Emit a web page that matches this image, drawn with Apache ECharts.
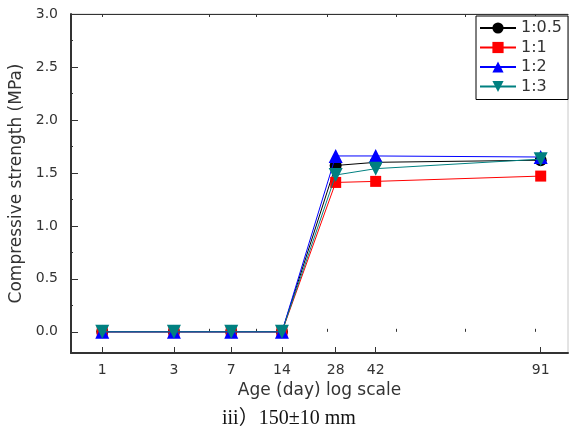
<!DOCTYPE html>
<html>
<head>
<meta charset="utf-8">
<script src="https://cdn.jsdelivr.net/npm/echarts@6/dist/echarts.min.js"></script>
<style>
html,body{margin:0;padding:0;background:#fff;}
#c{width:570px;height:435px;}
</style>
</head>
<body>
<div id="c"></div>
<script>
// Age labels (days) and where each sits on the original's log axis
const ages = [1, 3, 7, 14, 28, 42, 91];
const agePlotX = [1, 2.09, 3.77, 6.35, 11.04, 16.66, 91];
// Minor tick positions of the original log axis
const xMinorTicks = [3, 4.9, 10.1, 20.5, 41.7, 85.7];
const xTopTicks = [1, 3, 4.9, 10.1, 20.5, 41.7, 85.7];

const seriesNames = ['1:0.5', '1:1', '1:2', '1:3'];
const s05 = [0, 0, 0, 0, 1.57, 1.60, 1.62];
const s1  = [0, 0, 0, 0, 1.41, 1.42, 1.47];
const s2  = [0, 0, 0, 0, 1.66, 1.66, 1.65];
const s3  = [0, 0, 0, 0, 1.48, 1.54, 1.63];

const yTicks = [0, 0.5, 1.0, 1.5, 2.0, 2.5, 3.0];
const yMinorTicks = [0.25, 0.75, 1.25, 1.75, 2.25, 2.75];

const chart = echarts.init(document.getElementById('c'));
const XMIN = 0.725, XMAX = 120.5;
const FONT = 'DejaVu Sans';

function pts(vals) { return vals.map((v, i) => [agePlotX[i], v]); }
function ageLabel(v) {
  let best = 0, bd = Infinity;
  agePlotX.forEach((x, i) => { const d = Math.abs(Math.log(x) - Math.log(v)); if (d < bd) { bd = d; best = i; } });
  return String(ages[best]);
}

const colors = ['#000000', '#ff0000', '#0000ff', '#008080'];
const symbols = ['circle', 'rect', 'triangle', 'triangle'];
const rot = [0, 0, 0, 180];
const sizes = [12, 11, 14, 14];
const data = [s05, s1, s2, s3];

const option = {
  animation: false,
  grid: { left: 71, right: 2, top: 14, bottom: 82, show: true, borderColor: '#c8c8c8', borderWidth: 1, outerBoundsMode: 'none' },
  legend: {
    left: 476, top: 16,
    orient: 'vertical',
    data: seriesNames,
    itemWidth: 36, itemHeight: 14, itemGap: 3.5,
    padding: [4, 6, 5, 3],
    borderColor: '#000', borderWidth: 1,
    backgroundColor: '#fff',
    symbolRotate: 'inherit',
    textStyle: { fontFamily: FONT, fontSize: 16, color: '#333' }
  },
  xAxis: [
    {
      type: 'log', min: XMIN, max: XMAX, position: 'bottom',
      name: 'Age (day) log scale', nameLocation: 'middle', nameGap: 29,
      nameTextStyle: { fontFamily: FONT, fontSize: 17, color: '#333' },
      axisLine: { onZero: false, lineStyle: { color: '#333', width: 2 } },
      axisTick: { inside: true, length: 6, customValues: agePlotX, lineStyle: { color: '#333' } },
      axisLabel: { customValues: agePlotX, formatter: (v) => ageLabel(v), margin: 10, fontFamily: FONT, fontSize: 14, color: '#333' },
      splitLine: { show: false }, minorTick: { show: false }
    },
    {
      type: 'log', min: XMIN, max: XMAX, position: 'bottom',
      axisLine: { show: false },
      axisTick: { inside: true, length: 3, customValues: xMinorTicks, lineStyle: { color: '#333' } },
      axisLabel: { show: false }, splitLine: { show: false }
    },
    {
      type: 'log', min: XMIN, max: XMAX, position: 'top',
      axisLine: { onZero: false, lineStyle: { color: '#333', width: 1 } },
      axisTick: { inside: true, length: 3, customValues: xTopTicks, lineStyle: { color: '#333' } },
      axisLabel: { show: false }, splitLine: { show: false }
    }
  ],
  yAxis: [
    {
      type: 'value', min: -0.2, max: 3.0, position: 'left',
      name: 'Compressive strength (MPa)', nameLocation: 'middle', nameGap: 43, nameRotate: 90,
      nameTextStyle: { fontFamily: FONT, fontSize: 17, color: '#333' },
      axisLine: { show: true, lineStyle: { color: '#333', width: 2 } },
      axisTick: { inside: true, length: 7, customValues: yTicks, lineStyle: { color: '#333' } },
      axisLabel: { customValues: yTicks, formatter: (v) => v.toFixed(1), margin: 13, fontFamily: FONT, fontSize: 14, color: '#333' },
      splitLine: { show: false }
    },
    {
      type: 'value', min: -0.2, max: 3.0, position: 'left',
      axisLine: { show: false },
      axisTick: { inside: true, length: 2, customValues: yMinorTicks, lineStyle: { color: '#333' } },
      axisLabel: { show: false }, splitLine: { show: false }
    }
  ],
  series: seriesNames.map((n, k) => ({
    name: n, type: 'line', xAxisIndex: 0, yAxisIndex: 0,
    data: pts(data[k]),
    symbol: symbols[k], symbolSize: sizes[k], symbolRotate: rot[k],
    itemStyle: { color: colors[k] },
    lineStyle: { color: colors[k], width: 1 },
    z: 2 + k
  })),
  graphic: [
    {
      type: 'text', left: 222, top: 409,
      style: { text: 'iii）150±10 mm', font: '20px "Liberation Serif", "Noto Sans CJK KR", serif', fill: '#111' }
    }
  ]
};
chart.setOption(option);
</script>
</body>
</html>
